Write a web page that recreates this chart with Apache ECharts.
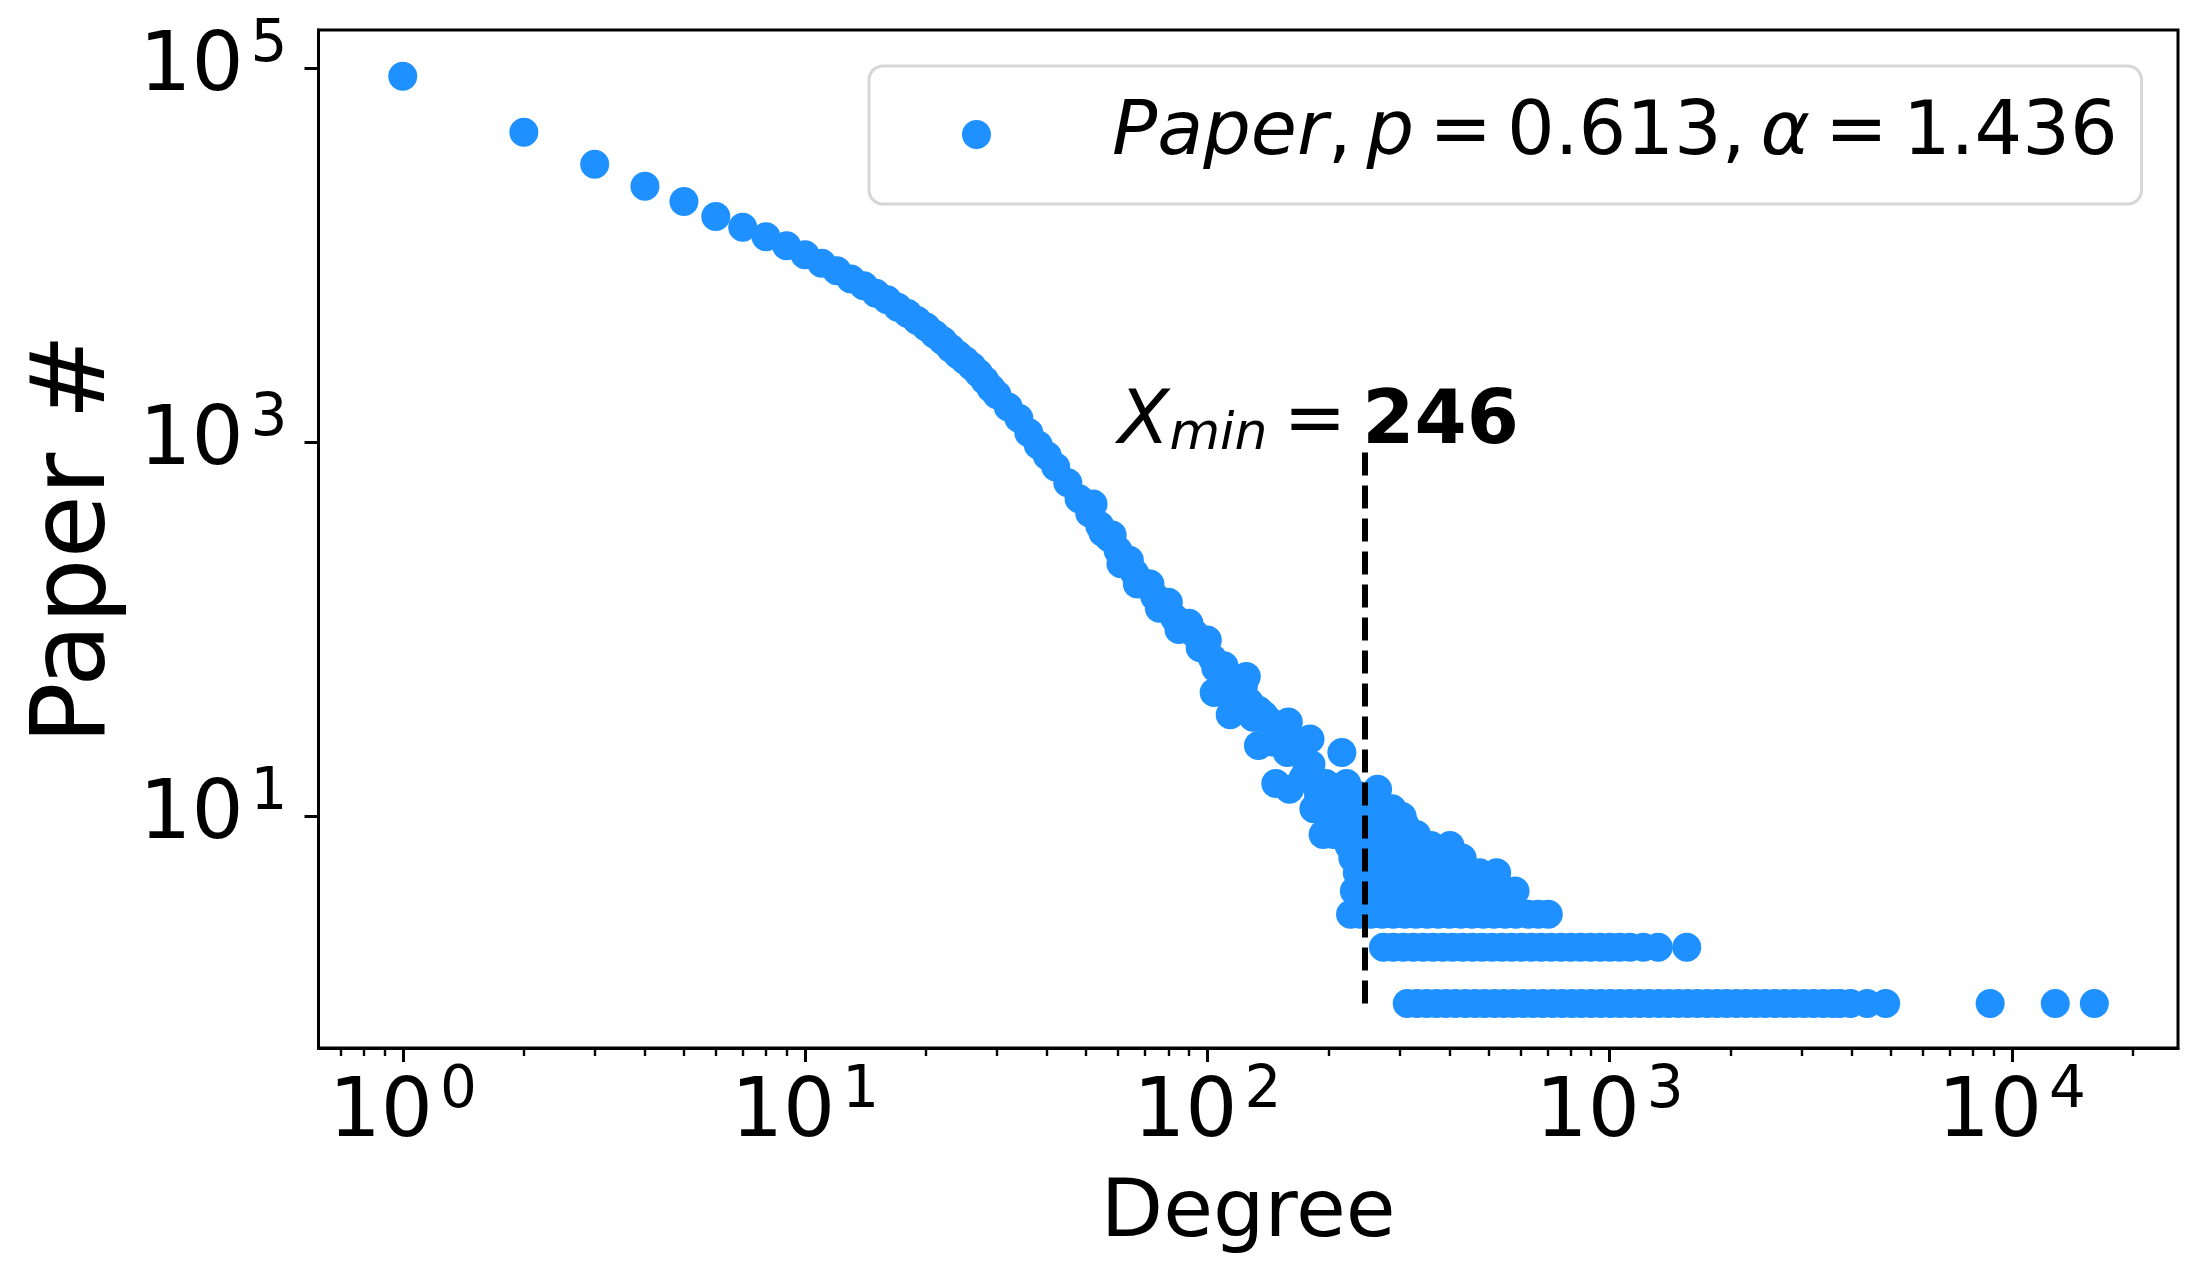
<!DOCTYPE html>
<html>
<head>
<meta charset="utf-8">
<title>Paper degree distribution</title>
<script src="https://cdn.jsdelivr.net/npm/echarts@6/dist/echarts.min.js"></script>
<style>
  html, body { margin: 0; padding: 0; background: #fff; }
  #main { width: 2208px; height: 1287px; }
</style>
</head>
<body>
<div id="main"></div>
<script>
// main curve, degree -> number of papers
var curveDeg = [1, 2, 3, 4, 5, 6, 7, 8, 9, 10, 11, 12, 13, 14, 15, 16, 17, 18, 19, 20,
  21, 22, 23, 24, 25, 26, 27, 28, 29, 30, 32, 34, 36, 38, 40, 42, 45, 48, 51, 54,
  57, 60, 63, 66, 70, 74, 78, 83, 88, 93, 98, 103, 108, 114, 120, 127, 134, 141, 148, 155,
  162, 170, 177, 185, 193, 201, 210, 220, 230];
var curveCnt = [91000, 45700, 30800, 23500, 19500, 16200, 14200, 12600, 11300, 10100,
  9100, 8300, 7500, 6900, 6300, 5800, 5300, 4900, 4500, 4150,
  3800, 3500, 3200, 2950, 2750, 2550, 2350, 2150, 1950, 1800,
  1550, 1350, 1130, 970, 850, 740, 610, 500, 420, 360,
  310, 265, 230, 200, 177, 150, 130, 115, 103, 95,
  82, 70, 62, 52, 46, 41, 37, 33, 30, 28,
  25, 22, 18, 15, 13, 11, 10, 8, 6];

// points lying off the main curve
var spreadDeg = [52, 55, 58, 61, 64, 67, 72, 76, 80, 85, 90, 96, 100, 104, 105, 110, 114, 118, 123, 125,
  130, 134, 138, 145, 148, 152, 158, 159, 160, 166, 173, 180, 181, 184, 189, 194, 197, 205, 206, 214,
  216, 222, 225, 235];
var spreadCnt = [470, 330, 320, 225, 235, 175, 175, 130, 140, 100, 108, 80, 88, 46, 62, 64, 35, 44, 50, 56,
  34, 24, 35, 25, 15, 31, 22, 32, 14, 23, 16, 26, 19, 11, 13, 8, 15, 10, 8, 12,
  22, 15, 7, 8];

// noisy block right of the cut-off (counts 3..14)
var blobDeg = [265, 236, 240, 258, 245, 270, 288, 250, 275, 305, 238, 262, 290, 310,
  244, 268, 295, 331, 234, 252, 275, 300, 330, 360, 401,
  240, 258, 280, 305, 335, 368, 400, 430,
  236, 250, 268, 290, 315, 340, 370, 400, 435, 475, 524,
  232, 245, 262, 280, 300, 322, 345, 370, 397, 425, 455, 488, 520, 550, 582,
  227, 240, 255, 272, 290, 310, 330, 352, 375, 400, 427, 455, 485, 516, 550, 585, 628, 665, 704];
var blobCnt = [14, 13, 12, 12, 11, 11, 11, 10, 10, 10, 9, 9, 9, 9,
  8, 8, 8, 8, 7, 7, 7, 7, 7, 7, 7,
  6, 6, 6, 6, 6, 6, 6, 6,
  5, 5, 5, 5, 5, 5, 5, 5, 5, 5, 5,
  4, 4, 4, 4, 4, 4, 4, 4, 4, 4, 4, 4, 4, 4, 4,
  3, 3, 3, 3, 3, 3, 3, 3, 3, 3, 3, 3, 3, 3, 3, 3, 3, 3, 3];

// degrees that have exactly two / one paper
var twoDeg = [274, 290, 307, 325, 344, 364, 385, 407, 431, 456, 482, 510, 540, 571, 604, 639, 676, 715,
  757, 801, 847, 896, 948, 1003, 1060, 1124, 1213, 1321, 1555];
var oneDeg = [314, 332, 351, 371, 392, 414, 438, 463, 489, 517, 546, 577, 610, 645, 682, 721, 762, 805,
  851, 900, 951, 1005, 1062, 1123, 1187, 1254, 1326, 1401, 1481, 1565, 1654, 1749, 1848, 1953, 2064,
  2182, 2306, 2437, 2576, 2722, 2877, 3041, 3214, 3397, 3590, 3740, 3970, 4370, 4856, 8830, 12820, 16030];

var xTicks = [1, 10, 100, 1000, 10000];
var xMinorTicks = [0.7, 0.8, 0.9, 2, 3, 4, 5, 6, 7, 8, 9, 20, 30, 40, 50, 60, 70, 80, 90,
  200, 300, 400, 500, 600, 700, 800, 900, 2000, 3000, 4000, 5000, 6000, 7000, 8000, 9000, 20000];
var yTicks = [10, 1000, 100000];

var xMin = 246, xMinLineTop = 1000, xMinTextDeg = 60;
var fitP = '0.613', fitAlpha = '1.436';

var font = 'DejaVu Sans';
var blue = '#1E90FF';

function pairs(xs, ys) {
  return xs.map(function (x, i) { return [x, ys[i]]; });
}
function row(xs, c) {
  return xs.map(function (x) { return [x, c]; });
}

var points = [].concat(
  pairs(curveDeg, curveCnt),
  pairs(spreadDeg, spreadCnt),
  pairs(blobDeg, blobCnt),
  row(twoDeg, 2),
  row(oneDeg, 1)
);

// 10^n tick labels, superscript done with rich text
function powLabel(v) {
  var e = Math.round(Math.log(v) / Math.LN10);
  return '{b|10}{g|}{s|' + e + '}';
}
var powRich = {
  b: { fontFamily: font, fontSize: 82, lineHeight: 104, color: '#000' },
  g: { width: 7 },
  s: { fontFamily: font, fontSize: 58, lineHeight: 58, verticalAlign: 'top', color: '#000' }
};

var chart = echarts.init(document.getElementById('main'));

chart.setOption({
  animation: false,
  backgroundColor: '#fff',
  grid: {
    left: 318.5, right: 30, top: 30, bottom: 239,
    show: true, borderColor: '#000', borderWidth: 3, backgroundColor: 'transparent'
  },
  legend: {
    data: ['Paper'],
    left: 869, top: 66,
    padding: [31, 24, 32, 93],
    itemWidth: 29, itemHeight: 29, icon: 'circle',
    selectedMode: false,
    backgroundColor: '#fff',
    borderColor: '#d6d6d6', borderWidth: 3, borderRadius: 14,
    formatter: function () {
      return '{sp|}{i|Paper}{r|,}{t|}{i|p}{t|}{r|=}{t|}{r|' + fitP + ',}{t|}{i|α}{t|}{r|=}{t|}{r|' + fitAlpha + '}';
    },
    textStyle: {
      rich: {
        sp: { width: 116 },
        t: { width: 15 },
        i: { fontFamily: font, fontSize: 75, fontStyle: 'italic', lineHeight: 84, color: '#000' },
        r: { fontFamily: font, fontSize: 75, lineHeight: 84, color: '#000' }
      }
    }
  },
  xAxis: [{
    type: 'log', min: 0.6174, max: 25878, position: 'bottom',
    name: 'Degree', nameLocation: 'middle', nameGap: 126,
    nameTextStyle: { fontFamily: font, fontSize: 81, color: '#000' },
    axisLine: { lineStyle: { color: '#000', width: 3 } },
    axisTick: { length: 14, lineStyle: { color: '#000', width: 3 }, customValues: xTicks },
    axisLabel: { margin: 15, formatter: powLabel, rich: powRich, customValues: xTicks },
    splitLine: { show: false }
  }, {
    type: 'log', min: 0.6174, max: 25878, position: 'bottom',
    axisLine: { show: false },
    axisTick: { length: 8, lineStyle: { color: '#000', width: 2.4 }, customValues: xMinorTicks },
    axisLabel: { show: false },
    splitLine: { show: false }
  }],
  yAxis: {
    type: 'log', min: 0.5777, max: 161000,
    name: 'Paper #', nameLocation: 'middle', nameGap: 177,
    nameTextStyle: { fontFamily: font, fontSize: 103, color: '#000' },
    axisLine: { show: true, lineStyle: { color: '#000', width: 3 } },
    axisTick: { show: true, length: 14, lineStyle: { color: '#000', width: 3 }, customValues: yTicks },
    axisLabel: { margin: 31, formatter: powLabel, rich: powRich, customValues: yTicks },
    splitLine: { show: false }
  },
  series: [{
    name: 'Paper',
    type: 'scatter',
    xAxisIndex: 0, yAxisIndex: 0,
    symbol: 'circle', symbolSize: 29,
    itemStyle: { color: blue, opacity: 1 },
    emphasis: { disabled: true },
    data: points,
    markLine: {
      silent: true,
      symbol: ['none', 'none'],
      label: { show: false },
      lineStyle: { color: '#000', width: 6, type: [23, 10], opacity: 1 },
      data: [[{ coord: [xMin, 1] }, { coord: [xMin, xMinLineTop] }]]
    }
  }]
});

// X_min annotation anchored at data point (60, 1000)
var anchor = chart.convertToPixel({ xAxisIndex: 0, yAxisIndex: 0 }, [xMinTextDeg, xMinLineTop]);
chart.setOption({
  graphic: [{
    type: 'text',
    x: anchor[0], y: anchor[1] - 19,
    style: {
      text: '{x|X}{m|min}{g|}{r|=}{g|}{bd|' + xMin + '}',
      align: 'left', verticalAlign: 'middle',
      rich: {
        x: { fontFamily: font, fontSize: 75, fontStyle: 'italic', lineHeight: 75, fill: '#000', color: '#000' },
        m: { fontFamily: font, fontSize: 52, fontStyle: 'italic', lineHeight: 35, verticalAlign: 'bottom', fill: '#000', color: '#000' },
        g: { width: 16 },
        r: { fontFamily: font, fontSize: 75, lineHeight: 75, fill: '#000', color: '#000' },
        bd: { fontFamily: font, fontSize: 75, fontWeight: 'bold', lineHeight: 75, fill: '#000', color: '#000' }
      }
    }
  }]
});
</script>
</body>
</html>
